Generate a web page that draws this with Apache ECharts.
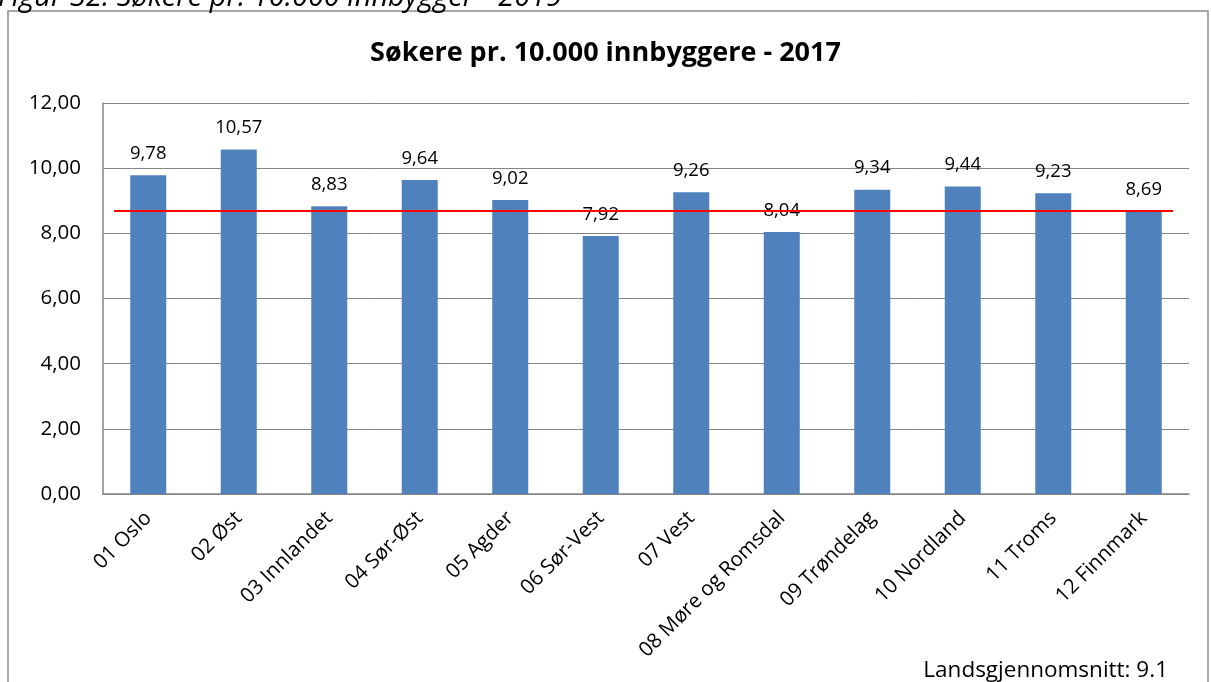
<!DOCTYPE html>
<html>
<head>
<meta charset="utf-8">
<script src="https://cdn.jsdelivr.net/npm/echarts@6/dist/echarts.min.js"></script>
<style>
  html, body { margin: 0; padding: 0; background: #fff; }
  #chart { width: 1211px; height: 682px; }
</style>
</head>
<body>
<div id="chart"></div>
<script>
// regioner og søkere pr. 10.000 innbyggere
const regions = ['01 Oslo', '02 Øst', '03 Innlandet', '04 Sør-Øst', '05 Agder', '06 Sør-Vest',
  '07 Vest', '08 Møre og Romsdal', '09 Trøndelag', '10 Nordland', '11 Troms', '12 Finnmark'];
const values = [9.78, 10.57, 8.83, 9.64, 9.02, 7.92, 9.26, 8.04, 9.34, 9.44, 9.23, 8.69];
const avgLine = 8.69;
const yTicks = [0, 12, 2]; // min, max, interval
const titleText = 'Søkere pr. 10.000 innbyggere - 2017';
const captionText = 'Figur 32: Søkere pr. 10.000 innbygger - 2019';
const noteText = 'Landsgjennomsnitt: 9.1';

const font = '"Open Sans", "Noto Sans", sans-serif';
const comma = v => v.toFixed(2).replace('.', ',');

let myChart = echarts.init(document.getElementById('chart'));
let option = {
  animation: false,
  textStyle: { fontFamily: font },
  title: {
    text: titleText,
    left: 'center',
    top: 35,
    textStyle: { fontSize: 27, fontWeight: 'bold', color: '#000', fontFamily: font }
  },
  graphic: [
    {
      type: 'rect',
      shape: { x: 8, y: 11, width: 1200, height: 700 },
      style: { fill: 'none', stroke: '#8c8c8c', lineWidth: 1.5 }
    },
    {
      type: 'text',
      left: -2, top: -17,
      style: { text: captionText, fontSize: 29, fontStyle: 'italic', fill: '#000', fontFamily: font }
    },
    {
      type: 'text',
      right: 43, top: 659,
      style: { text: noteText, fontSize: 22.5, fill: '#000', fontFamily: font }
    }
  ],
  grid: { left: 103, right: 22, top: 103, bottom: 188, containLabel: false },
  xAxis: {
    type: 'category',
    data: regions,
    axisLine: { lineStyle: { color: '#868686', width: 1.5 } },
    axisTick: { show: false },
    axisLabel: {
      interval: 0,
      rotate: 45,
      fontSize: 20.5,
      color: '#000',
      margin: 21,
      fontFamily: font
    }
  },
  yAxis: {
    type: 'value',
    min: yTicks[0],
    max: yTicks[1],
    interval: yTicks[2],
    axisLine: { show: true, lineStyle: { color: '#868686', width: 1.5 } },
    axisTick: { show: false },
    splitLine: { lineStyle: { color: '#868686', width: 1 } },
    axisLabel: {
      fontSize: 20.5,
      color: '#000',
      margin: 22,
      formatter: v => comma(v),
      fontFamily: font
    }
  },
  series: [{
    type: 'bar',
    data: values,
    barWidth: 36,
    itemStyle: { color: '#4f81bd' },
    label: {
      show: true,
      position: 'top',
      distance: 12,
      fontSize: 18.5,
      color: '#000',
      formatter: p => comma(p.value),
      fontFamily: font
    },
    markLine: {
      silent: true,
      symbol: 'none',
      label: { show: false },
      lineStyle: { color: '#ff0000', width: 2, type: 'solid' },
      data: [[{ x: 114, yAxis: avgLine }, { x: 1173, yAxis: avgLine }]]
    }
  }]
};
myChart.setOption(option);
window.addEventListener('resize', function () {
  myChart.resize();
});
</script>
</body>
</html>
